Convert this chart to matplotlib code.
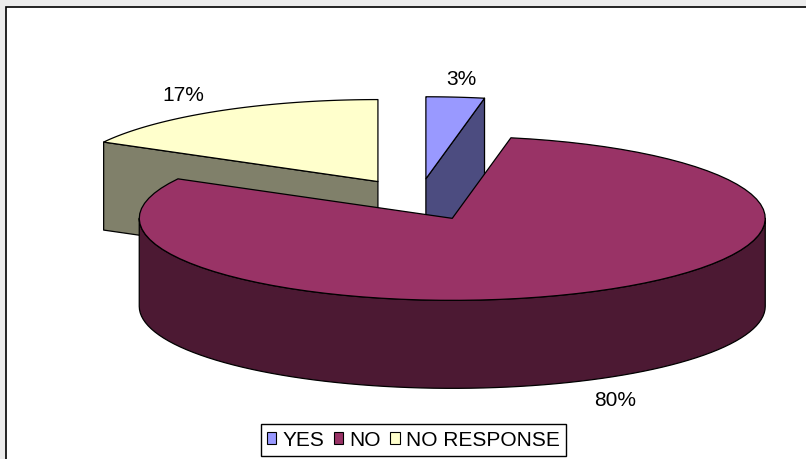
import numpy as np
import matplotlib.pyplot as plt
from matplotlib.patches import Polygon, Rectangle, Patch

labels = ["YES", "NO", "NO RESPONSE"]
shares = [3, 80, 17]
top_colors = ["#9999ff", "#993366", "#ffffcc"]
side_colors = ["#4c4c80", "#4c1933", "#80806a"]

# pie layout in pixels (x right, y down)
W, H_FIG = 806, 459
CX, CY = 418.4, 199.5
RX, RY = 313, 82
DEPTH = 88
EXPLODE = 0.254
EDGE = dict(edgecolor="black", linewidth=0.9, joinstyle="round")

plt.rcParams['font.family'] = ['Liberation Sans', 'DejaVu Sans']

fig = plt.figure(figsize=(W / 100, H_FIG / 100), dpi=100)
fig.patch.set_facecolor("#ececec")
ax = fig.add_axes([0, 0, 1, 1])
ax.set_xlim(0, W)
ax.set_ylim(H_FIG, 0)
ax.axis("off")

ax.add_patch(Rectangle((6, 7), 830, 480, facecolor="white", edgecolor="black", linewidth=1.2))


def unit(deg):
    t = np.radians(deg)
    return np.sin(t), -np.cos(t)


def rim(ox, oy, a0, a1, n=80):
    t = np.radians(np.linspace(a0, a1, n))
    return ox + RX * np.sin(t), oy - RY * np.cos(t)


# slice angles, clockwise from 12 o'clock
fracs = np.array(shares) / sum(shares) * 360
starts = np.concatenate([[0], np.cumsum(fracs)[:-1]])
ends = starts + fracs
mids = (starts + ends) / 2

# back slices first
order = sorted(range(len(shares)), key=lambda i: -np.cos(np.radians(mids[i])))

for i in order:
    a0, a1, m = starts[i], ends[i], mids[i]
    ux, uy = unit(m)
    ox = CX + EXPLODE * RX * ux
    oy = CY + EXPLODE * RY * uy

    # radial cut faces that look toward the viewer
    for edge_ang, normal in ((a0, a0 - 90), (a1, a1 + 90)):
        if np.cos(np.radians(normal)) < -1e-6:
            ex, ey = unit(edge_ang)
            px, py = ox + RX * ex, oy + RY * ey
            ax.add_patch(Polygon([(ox, oy), (px, py), (px, py + DEPTH), (ox, oy + DEPTH)],
                                 closed=True, facecolor=side_colors[i], **EDGE))

    # outer wall on the front half
    w0, w1 = max(a0, 90), min(a1, 270)
    if w1 > w0:
        xs, ys = rim(ox, oy, w0, w1)
        pts = list(zip(xs, ys)) + list(zip(xs[::-1], ys[::-1] + DEPTH))
        ax.add_patch(Polygon(pts, closed=True, facecolor=side_colors[i], **EDGE))

    # top face
    xs, ys = rim(ox, oy, a0, a1)
    pts = [(ox, oy)] + list(zip(xs, ys))
    ax.add_patch(Polygon(pts, closed=True, facecolor=top_colors[i], **EDGE))

    # percentage label, pushed below the wall for front slices
    lx = ox + 1.22 * RX * ux
    ly = oy + 1.22 * RY * uy
    if uy > 0:
        ly += DEPTH + 4
    ax.text(lx, ly, f"{shares[i]}%", fontsize=15, ha="center", va="center")

handles = [Patch(facecolor=c, edgecolor="black", linewidth=0.8) for c in top_colors]
leg = fig.legend(handles, labels, loc="center", ncol=3,
                 bbox_to_anchor=(413.5 / W, 1 - 440 / H_FIG),
                 fontsize=15, handlelength=0.45, handleheight=0.45,
                 handletextpad=0.3, columnspacing=0.45, borderpad=0.3,
                 fancybox=False, framealpha=1)
leg.get_frame().set_edgecolor("black")
leg.get_frame().set_linewidth(1.0)

fig.savefig("out.png", dpi=100)
